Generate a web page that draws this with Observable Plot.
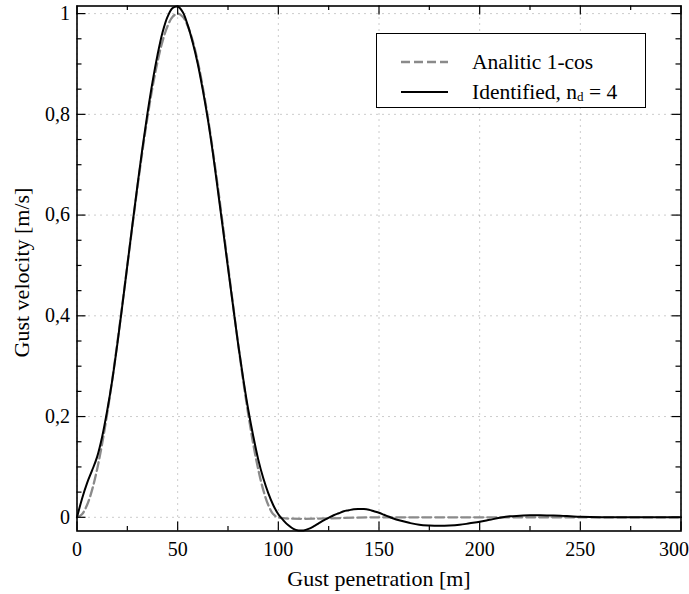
<!DOCTYPE html>
<html>
<head>
<meta charset="utf-8">
<script src="https://cdn.jsdelivr.net/npm/d3@7"></script>
<script src="https://cdn.jsdelivr.net/npm/@observablehq/plot@0.6"></script>
<style>
  body { margin: 0; background: white; }
  #wrap { position: relative; width: 689px; height: 594px; font-family: 'Liberation Serif', 'Times New Roman', Times, serif; }
  #legend { position: absolute; left: 376px; top: 33px; width: 268px; height: 73px; border: 1px solid black; background: white; box-sizing: content-box; }
  .row { position: absolute; left: 0; font-size: 21.5px; line-height: 22px; white-space: nowrap; }
  .row svg { position: absolute; left: 24px; top: 1px; }
  .row span.t { position: absolute; left: 95px; }
  sub { font-size: 13px; vertical-align: -2px; }
</style>
</head>
<body>
<div id="wrap"></div>
<script>
// ---- data ----
const analyticX = [0,2.5,5,7.5,10,12.5,15,17.5,20,22.5,25,27.5,30,32.5,35,37.5,40,42.5,45,47.5,50,52.5,55,57.5,60,62.5,65,67.5,70,72.5,75,77.5,80,82.5,85,87.5,90,92.5,95,97.5,100,150,200,250,300];
const analyticY = [0,0.0062,0.0245,0.0545,0.0955,0.1464,0.2061,0.273,0.3455,0.4218,0.5,0.5782,0.6545,0.727,0.7939,0.8536,0.9045,0.9455,0.9755,0.9938,1,0.9938,0.9755,0.9455,0.9045,0.8536,0.7939,0.727,0.6545,0.5782,0.5,0.4218,0.3455,0.273,0.2061,0.1464,0.0955,0.0545,0.0245,0.0062,0,0,0,0,0];

const identX = [0,2.5,5,7.5,10,12.5,15,17.5,20,22.5,25,27.5,30,32.5,35,37.5,40,42.5,45,47.5,50,52.5,55,57.5,60,62.5,65,67.5,70,72.5,75,77.5,80,82.5,85,87.5,90,92.5,95,97.5,100,102.5,105,107.5,110,112.5,115,117.5,120,122.5,125,127.5,130,132.5,135,137.5,140,142.5,145,147.5,150,152.5,155,157.5,160,165,170,175,180,185,190,195,200,205,210,215,220,225,230,235,240,245,250,260,270,280,290,300];
const identY = [0,0.037,0.068,0.093,0.12,0.16,0.212,0.272,0.343,0.42,0.5,0.58,0.658,0.733,0.802,0.864,0.918,0.963,0.994,1.011,1.014,1.003,0.977,0.942,0.9,0.848,0.79,0.723,0.648,0.572,0.495,0.42,0.345,0.277,0.215,0.162,0.115,0.078,0.048,0.024,0.006,-0.006,-0.016,-0.023,-0.026,-0.026,-0.023,-0.018,-0.012,-0.006,-0.001,0.004,0.008,0.012,0.014,0.016,0.0165,0.0165,0.015,0.012,0.009,0.005,0.001,-0.003,-0.006,-0.011,-0.015,-0.0165,-0.017,-0.0165,-0.015,-0.012,-0.009,-0.005,-0.001,0.002,0.003,0.004,0.004,0.0035,0.003,0.002,0.001,0,0,0,0,0];

const xMajor = [0,50,100,150,200,250,300];
const xMinor = [25,75,125,175,225,275];
const yMajor = [0,0.2,0.4,0.6,0.8,1];
const yMinor = [0.05,0.1,0.15,0.25,0.3,0.35,0.45,0.5,0.55,0.65,0.7,0.75,0.85,0.9,0.95];
const xTitle = "Gust penetration [m]";
const yTitle = "Gust velocity [m/s]";
const seriesNames = ["Analitic 1-cos", "Identified, n"];

// ---- build ----
const analytic = analyticX.map((x, i) => ({x, y: analyticY[i]}));
const ident = identX.map((x, i) => ({x, y: identY[i]}));
const W = 689, H = 594, mL = 76.5, mR = 8.5, mT = 5.5, mB = 63.5;
const pW = W - mL - mR, pH = H - mT - mB;
const fmt = d => String(d).replace(".", ",");
const xInner = xMajor.slice(0, -1);
const xLast = xMajor.slice(-1);
const serif = "'Liberation Serif', 'Times New Roman', Times, serif";

const chart = Plot.plot({
  width: W, height: H,
  marginLeft: mL, marginRight: mR, marginTop: mT, marginBottom: mB,
  style: {fontFamily: serif, fontSize: "20px", background: "white", color: "black"},
  x: {domain: [0, 300]},
  y: {domain: [-0.0272, 1.0151]},
  marks: [
    Plot.gridX(xMajor, {stroke: "#999", strokeOpacity: 1, strokeDasharray: "1,5"}),
    Plot.gridY(yMajor, {stroke: "#999", strokeOpacity: 1, strokeDasharray: "1,5"}),
    Plot.line(analytic, {x: "x", y: "y", stroke: "#8a8a8a", strokeWidth: 2.3, strokeDasharray: "9,4", curve: "catmull-rom"}),
    Plot.line(ident, {x: "x", y: "y", stroke: "black", strokeWidth: 2, curve: "catmull-rom"}),
    Plot.frame({stroke: "black", strokeWidth: 1.6}),
    Plot.tickX(xMajor, {x: d => d, stroke: "black", strokeWidth: 1.2, insetTop: pH - 9}),
    Plot.tickX(xMinor, {x: d => d, stroke: "black", strokeWidth: 1.2, insetTop: pH - 4.5}),
    Plot.tickX(xMajor, {x: d => d, stroke: "black", strokeWidth: 1.2, insetBottom: pH - 9}),
    Plot.tickX(xMinor, {x: d => d, stroke: "black", strokeWidth: 1.2, insetBottom: pH - 4.5}),
    Plot.tickY(yMajor, {y: d => d, stroke: "black", strokeWidth: 1.2, insetRight: pW - 9}),
    Plot.tickY(yMinor, {y: d => d, stroke: "black", strokeWidth: 1.2, insetRight: pW - 5}),
    Plot.tickY(yMajor, {y: d => d, stroke: "black", strokeWidth: 1.2, insetLeft: pW - 9}),
    Plot.tickY(yMinor, {y: d => d, stroke: "black", strokeWidth: 1.2, insetLeft: pW - 5}),
    Plot.axisX(xInner, {anchor: "bottom", tickSize: 0, tickPadding: 11, tickFormat: fmt, label: null, fontFamily: serif}),
    Plot.axisX(xLast, {anchor: "bottom", tickSize: 0, tickPadding: 11, tickFormat: fmt, label: null, textAnchor: "end", dx: 8, fontFamily: serif}),
    Plot.axisY(yMajor, {anchor: "left", tickSize: 0, tickPadding: 7, tickFormat: fmt, label: null, fontFamily: serif}),
    Plot.text([xTitle], {frameAnchor: "bottom", text: d => d, textAnchor: "middle", dy: 48, lineAnchor: "middle", fontSize: 22, fontFamily: serif}),
    Plot.text([yTitle], {frameAnchor: "left", text: d => d, textAnchor: "middle", dx: -55, dy: 4, rotate: -90, lineAnchor: "middle", fontSize: 22, fontFamily: serif})
  ]
});

const wrap = document.getElementById("wrap");
wrap.appendChild(chart);

const legend = document.createElement("div");
legend.id = "legend";
legend.innerHTML =
  `<div class="row" style="top:17px"><svg width="48" height="20"><line x1="0" x2="47" y1="10" y2="10" stroke="#8a8a8a" stroke-width="2.3" stroke-dasharray="9,4"/></svg><span class="t">${seriesNames[0]}</span></div>` +
  `<div class="row" style="top:47px"><svg width="48" height="20"><line x1="0" x2="47" y1="10" y2="10" stroke="black" stroke-width="2"/></svg><span class="t">${seriesNames[1]}<sub>d</sub> = 4</span></div>`;
wrap.appendChild(legend);
</script>
</body>
</html>
